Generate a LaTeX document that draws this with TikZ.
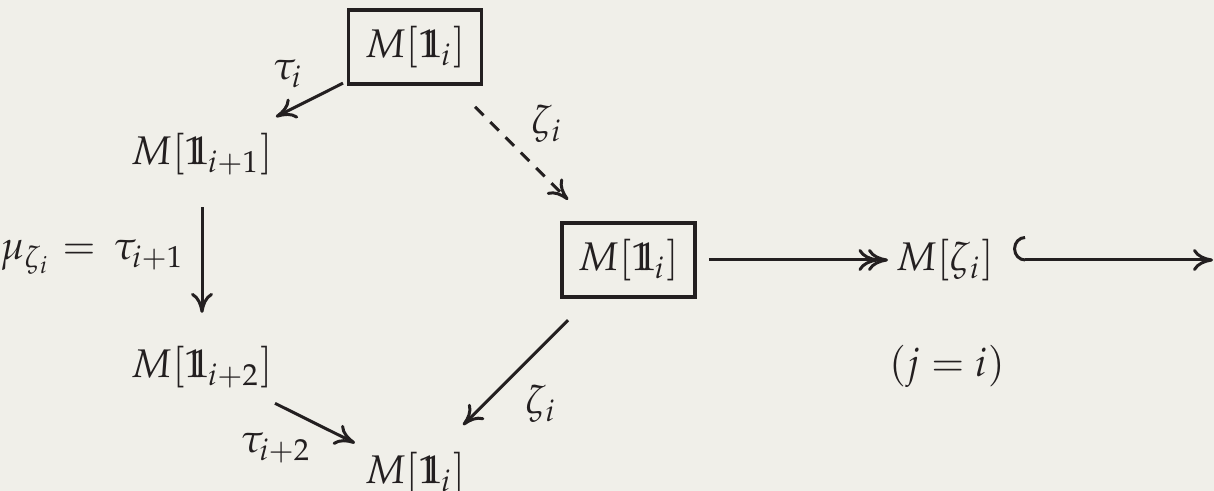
\documentclass[tikz,border=0pt]{standalone}
\usepackage{mathpazo}
\usetikzlibrary{arrows.meta,calc}
\definecolor{bg}{RGB}{240,239,233}
\definecolor{ink}{RGB}{35,31,32}
\newcommand{\dsone}{\mathrm{1}\mkern-6.6mu\mathrm{1}\mkern-1mu}
\begin{document}
\begin{tikzpicture}[x=0.25pt,y=-0.25pt,
  every node/.style={inner sep=0pt,outer sep=0pt,text=ink},
  boxed/.style={draw=ink,line width=0.85pt,minimum width=33.25pt,minimum height=18.5pt},
  arr/.style={draw=ink,line width=0.75pt,-{Computer Modern Rightarrow[length=5pt,width=5.5pt]}},
  dasharr/.style={arr,dash pattern=on 3pt off 2.4pt},
  epiarr/.style={draw=ink,line width=0.75pt,-{Computer Modern Rightarrow[length=5pt,width=5.5pt,sep=-2.6pt]Computer Modern Rightarrow[length=5pt,width=5.5pt]}},
  monoarr/.style={draw=ink,line width=0.75pt,{Hooks[right,length=3pt,width=12pt]}-{Computer Modern Rightarrow[length=5pt,width=5.5pt]}},
  lbl/.style={}
]
\useasboundingbox[fill=bg] (0,0) rectangle (1214,491);

\node[boxed] (A) at (415,47) {$M[\dsone_i]$};
\node (B) at (202,154) {$M[\dsone_{i+1}]$};
\node (C) at (202,367) {$M[\dsone_{i+2}]$};
\node (D) at (415,473) {$M[\dsone_i]$};
\node[boxed] (E) at (628.5,260) {$M[\dsone_i]$};
\node (F) at (945,260) {$M[\zeta_i]$};
\node (G) at (947,366) {$(j=i)$};
\coordinate (R) at (1213,260);

\node[lbl] (lti) at (288,74) {$\tau_i$};
\node[lbl] (lz1) at (547,124) {$\zeta_i$};
\node[lbl,anchor=east] (lmu) at (184,257) {$\mu_{\zeta_i} = \mkern3mu\tau_{i+1}$};
\node[lbl] (lz2) at (541,404) {$\zeta_i$};
\node[lbl] (lt2) at (276,448) {$\tau_{i+2}$};

\draw[arr] ($(A)!0.338!(B)$) -- ($(A)!0.653!(B)$);
\draw[dasharr] ($(A)!0.281!(E)$) -- ($(A)!0.717!(E)$);
\draw[arr] ($(B)!0.249!(C)$) -- ($(B)!0.746!(C)$);
\draw[arr] ($(C)!0.343!(D)$) -- ($(C)!0.718!(D)$);
\draw[arr] ($(E)!0.283!(D)$) -- ($(E)!0.775!(D)$);
\draw[epiarr] ($(E)!0.254!(F)$) -- ($(E)!0.82!(F)$);
\draw[monoarr] ($(F)!0.254!(R)$) -- (R);
\end{tikzpicture}
\end{document}
